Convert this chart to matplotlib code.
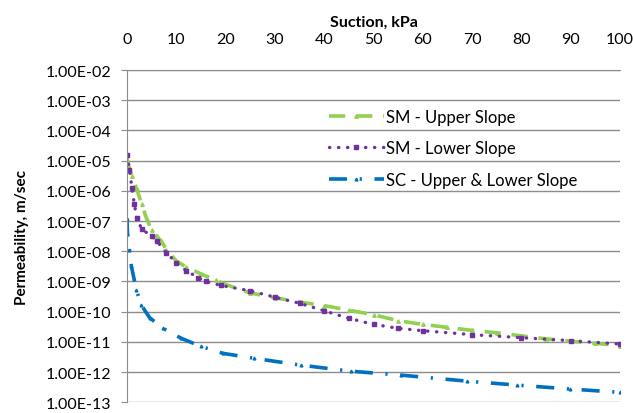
import matplotlib.pyplot as plt
import numpy as np
from matplotlib.ticker import FuncFormatter, FixedLocator

plt.rcParams["font.family"] = ["Lato", "DejaVu Sans"]

# values (x in kPa, y as log10 of permeability)
sm_upper_x = [0, 0.5, 1, 2, 3, 4, 5, 6, 7, 8, 10, 12, 15, 18, 20, 25, 30, 35, 40,
              45, 50, 55, 60, 65, 70, 75, 80, 85, 90, 95, 100]
sm_upper_log = [-4.95, -5.25, -5.5, -5.95, -6.45, -6.93, -7.3, -7.5, -7.67, -7.95,
                -8.32, -8.52, -8.75, -8.95, -9.1, -9.38, -9.54, -9.68, -9.8,
                -9.95, -10.1, -10.3, -10.42, -10.52, -10.62, -10.7, -10.8, -10.9,
                -10.98, -11.05, -11.12]

sm_lower_x = [0, 0.5, 1, 1.5, 2, 3, 5, 6, 8, 10, 12, 14.5, 16, 19, 25, 30, 35, 40,
              45, 50, 55, 60, 70, 80, 90, 100]
sm_lower_log = [-4.82, -5.3, -5.9, -6.45, -6.9, -7.27, -7.5, -7.65, -8.05, -8.38,
                -8.64, -8.88, -9.0, -9.13, -9.31, -9.52, -9.72, -9.97,
                -10.22, -10.42, -10.55, -10.63, -10.76, -10.86, -10.96, -11.07]

sc_x = [0, 0.1, 0.5, 0.9, 1.9, 2.9, 4.6, 7.3, 11, 15, 19.5, 25.7, 35.3, 45.4,
        55.6, 69, 79.1, 89.9, 100]
sc_log = [-6.92, -7.4, -7.97, -8.5, -9.28, -9.78, -10.2, -10.55, -10.88, -11.15,
          -11.38, -11.54, -11.77, -11.97, -12.1, -12.3, -12.43, -12.56, -12.67]

labels = ["SM - Upper Slope", "SM - Lower Slope", "SC - Upper & Lower Slope"]
x_ticks = list(range(0, 101, 10))
decades = list(range(-13, -1))

fig = plt.figure(figsize=(6.33, 4.14), dpi=100)
ax = fig.add_axes([0.2006, 0.0258, 0.7789, 0.8027])

ax.plot(sm_upper_x, 10.0 ** np.array(sm_upper_log), color="#92D050", lw=2.6,
        dashes=(4.5, 3), marker="^", ms=2.5, label=labels[0])
ax.plot(sm_lower_x, 10.0 ** np.array(sm_lower_log), color="#7030A0", lw=2.4,
        linestyle=(0, (0.1, 2.6)), dash_capstyle="round", marker="s", ms=2.5,
        label=labels[1])
ax.plot(sc_x, 10.0 ** np.array(sc_log), color="#0070C0", lw=2.6,
        dashes=(5, 3.5, 0.6, 3.5), marker="^", ms=2, label=labels[2])

ax.set_yscale("log")
ax.set_ylim(1e-13, 1e-2)
ax.set_xlim(0, 100)
ax.yaxis.set_major_locator(FixedLocator([10.0 ** d for d in decades]))
ax.yaxis.set_minor_locator(FixedLocator([]))
ax.yaxis.set_major_formatter(FuncFormatter(lambda v, p: f"{v:.2E}"))
ax.set_xticks(x_ticks)

ax.xaxis.tick_top()
ax.xaxis.set_label_position("top")
ax.set_xlabel("Suction, kPa", fontsize=11.5, fontweight="bold", labelpad=5)
ax.set_ylabel("Permeability, m/sec", fontsize=11, fontweight="bold", labelpad=12)

ax.grid(axis="y", color="#8c8c8c", lw=1)
ax.set_axisbelow(True)
for side in ["right", "bottom"]:
    ax.spines[side].set_visible(False)
for side in ["left", "top"]:
    ax.spines[side].set_color("#8c8c8c")
ax.tick_params(axis="y", colors="#8c8c8c", labelcolor="black", labelsize=11.5,
               length=4.3, pad=7)
ax.tick_params(axis="x", colors="#8c8c8c", labelcolor="black", labelsize=11.5,
               length=0, pad=17)

ax.legend(loc="upper left", bbox_to_anchor=(0.38, 0.929), frameon=False,
          fontsize=12, handlelength=3.25, handletextpad=0.15, labelspacing=0.93)

fig.savefig("out.png", dpi=100)
